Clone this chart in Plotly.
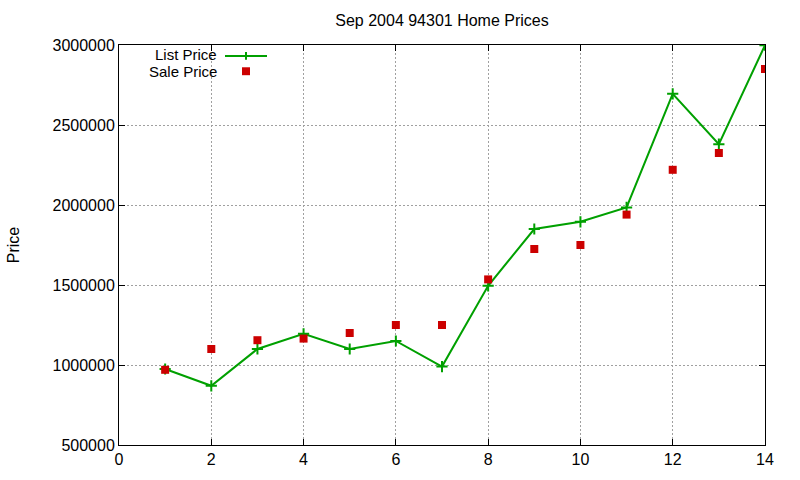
import plotly.graph_objects as go

x_vals = list(range(1, 15))
list_price = [975000, 870000, 1100000, 1195000, 1100000, 1150000, 990000,
              1495000, 1850000, 1895000, 1985000, 2695000, 2380000, 2999000]
sale_price = [970000, 1100000, 1155000, 1165000, 1200000, 1250000, 1250000,
              1535000, 1725000, 1750000, 1940000, 2220000, 2325000, 2850000]

title_text = "Sep 2004 94301 Home Prices"
y_title = "Price"
legend_labels = ["List Price", "Sale Price"]

GREEN = "#00a000"
RED = "#cc0000"
FONT = "Liberation Sans, Arial, sans-serif"

fig = go.Figure()
fig.add_trace(go.Scatter(
    x=x_vals, y=list_price, mode="lines+markers", name=legend_labels[0],
    line=dict(color=GREEN, width=2),
    marker=dict(symbol="cross-thin-open", size=8, line=dict(color=GREEN, width=2)),
    showlegend=False))
fig.add_trace(go.Scatter(
    x=x_vals, y=sale_price, mode="markers", name=legend_labels[1],
    marker=dict(symbol="square", size=8, color=RED, line=dict(width=0)),
    showlegend=False))

L, R, T, B = 119, 35, 45, 31
W, H = 800, 480
pw, ph = W - L - R, H - T - B

def px(xp):
    return (xp - L) / pw

def py(yp):
    return (H - B - yp) / ph

# manual gnuplot-style legend (text right-aligned, sample to the right)
for lbl, yy in zip(legend_labels, [55, 72]):
    fig.add_annotation(x=px(218), y=py(yy), xref="paper", yref="paper",
                       text=lbl, showarrow=False, xanchor="right",
                       yanchor="middle", borderpad=0,
                       font=dict(size=15, color="black", family=FONT))
fig.add_shape(type="line", xref="paper", yref="paper",
              x0=px(225), x1=px(267), y0=py(56), y1=py(56),
              line=dict(color=GREEN, width=2))
fig.add_shape(type="line", xref="paper", yref="paper",
              x0=px(246), x1=px(246), y0=py(52), y1=py(60),
              line=dict(color=GREEN, width=2))
fig.add_shape(type="rect", xref="paper", yref="paper",
              x0=px(242), x1=px(250), y0=py(67.5), y1=py(75.5),
              line=dict(width=0), fillcolor=RED)

axis_common = dict(
    showline=True, linecolor="black", linewidth=1, mirror="ticks",
    ticks="inside", ticklen=6, tickcolor="black", tickwidth=1,
    showgrid=True, gridcolor="#a0a0a0", griddash="2px,2px", gridwidth=1,
    zeroline=False,
    tickfont=dict(size=16, color="black", family=FONT),
)

fig.update_xaxes(range=[0, 14], dtick=2, tick0=0, **axis_common)
fig.update_yaxes(range=[500000, 3000000], dtick=500000, tick0=500000,
                 tickformat="d", title=dict(text=y_title, standoff=28,
                 font=dict(size=16, color="black", family=FONT)),
                 **axis_common)

fig.update_layout(
    width=W, height=H,
    margin=dict(l=L, r=R, t=T, b=B),
    paper_bgcolor="white", plot_bgcolor="white",
    title=dict(text=title_text, x=(L + pw / 2) / W, xanchor="center",
               y=1 - 20 / H, yanchor="middle",
               font=dict(size=16, color="black", family=FONT)),
    font=dict(family=FONT, color="black"),
    showlegend=False,
)

fig.write_html("out.html")
